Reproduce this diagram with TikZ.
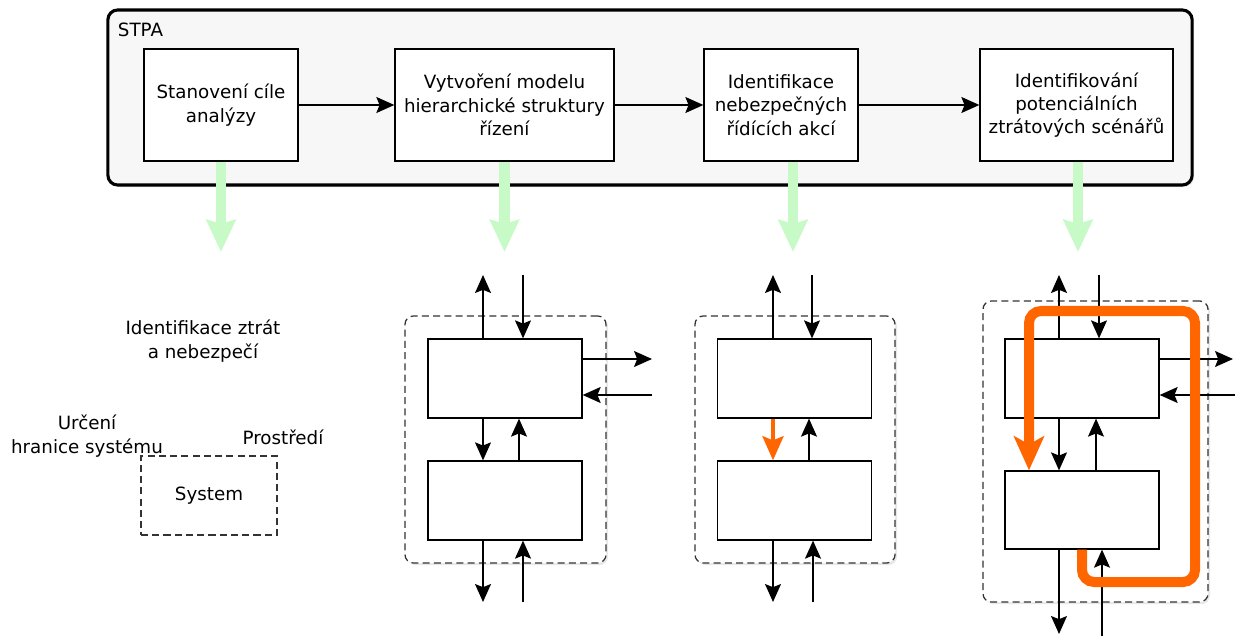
\documentclass[tikz,border=0pt]{standalone}
\usepackage{fontspec}
\setmainfont{DejaVu Sans}
\usetikzlibrary{arrows.meta,shadows}

\definecolor{zelenasipka}{RGB}{200,250,200}
\definecolor{oranzova}{RGB}{255,102,0}

\begin{document}
\begin{tikzpicture}[x=0.025cm,y=-0.025cm,
    font=\fontsize{13}{16.5}\selectfont,
    stin/.style={drop shadow={opacity=0.18,shadow xshift=0.5mm,shadow yshift=-0.5mm}},
    ramec/.style={draw,line width=2.2pt,rounded corners=7pt,fill=black!3,stin},
    krok/.style={draw,line width=0.9pt,fill=white,align=center,inner sep=1pt,minimum height=2.8cm},
    blok/.style={draw,line width=0.9pt,fill=white,minimum width=3.85cm,minimum height=1.975cm},
    ohranic/.style={draw=black!80,dash pattern=on 5pt off 3pt,line width=0.9pt,rounded corners=6pt,fill=white,stin},
    sip/.style={line width=0.9pt,-{Stealth[length=0.45cm,width=0.4cm,inset=0.08cm]}},
    zelena/.style={draw=zelenasipka,line width=0.27cm,-{Stealth[length=0.8cm,width=0.72cm,inset=0.1cm]}},
    orsip/.style={draw=oranzova,line width=0.11cm,-{Stealth[length=0.6cm,width=0.52cm,inset=0.1cm]}},
    orcesta/.style={draw=oranzova,line width=0.25cm,rounded corners=0.3cm,-{Stealth[length=0.85cm,width=0.75cm,inset=0.2cm]}}]
    \useasboundingbox (0,0) rectangle (1235,636);

    % STPA ramec
    \node[ramec,minimum width=27.1cm,minimum height=4.375cm] (stpa) at (650,97.5) {};
    \node[anchor=west] (stpanazev) at (113,30) {STPA};

    % kroky analyzy
    \node[krok,minimum width=3.85cm] (s1) at (221,105) {Stanovení cíle\\analýzy};
    \node[krok,minimum width=5.475cm] (s2) at (504.5,105) {Vytvoření modelu\\hierarchické struktury\\řízení};
    \node[krok,minimum width=3.85cm] (s3) at (781,105) {Identifikace\\nebezpečných\\řídících akcí};
    \node[krok,minimum width=4.825cm] (s4) at (1076.5,105) {Identifikov\'an\'i\\potenci\'aln\'ich\\ztr\'atov\'ych sc\'en\'a\v{r}\r{u}};
    \draw[sip] (s1) -- (s2);
    \draw[sip] (s2) -- (s3);
    \draw[sip] (s3) -- (s4);

    % zelene sipky dolu
    \coordinate (g1) at (221,252);
    \coordinate (g2) at (504.5,252);
    \coordinate (g3) at (793,252);
    \coordinate (g4) at (1078,252);
    \draw[zelena] (s1.south) -- (g1);
    \draw[zelena] (s2.south) -- (g2);
    \draw[zelena] (s3.south -| g3) -- (g3);
    \draw[zelena] (s4.south -| g4) -- (g4);

    % vysledek 1
    \node[align=center] (ztraty) at (203,341) {Identifikace ztrát\\a nebezpečí};
    \node[align=center] (hranice) at (87,436) {Určení\\hranice systému};
    \node (prostredi) at (283,437) {Prostředí};
    \node[draw=black!80,dash pattern=on 5pt off 3pt,line width=0.9pt,minimum width=3.4cm,minimum height=1.975cm] (system) at (209,495.5) {System};

    % vysledek 2 - model rizeni
    \node[ohranic,minimum width=5.025cm,minimum height=6.175cm] (o2) at (505.5,439.5) {};
    \node[blok] (h2) at (505,378.5) {};
    \node[blok] (d2) at (505,500.5) {};
    \coordinate (h2ven) at (483,275);
    \coordinate (h2dovnitr) at (523,275);
    \coordinate (h2vpravo) at (652,359);
    \coordinate (h2zprava) at (652,395);
    \coordinate (d2ven) at (483,602);
    \coordinate (d2dovnitr) at (523,602);
    \draw[sip] (h2.north -| h2ven) -- (h2ven);
    \draw[sip] (h2dovnitr) -- (h2.north -| h2dovnitr);
    \draw[sip] (h2.east |- h2vpravo) -- (h2vpravo);
    \draw[sip] (h2zprava) -- (h2.east |- h2zprava);
    \draw[sip] ([shift={(-22,0)}]h2.south) -- ([shift={(-22,0)}]d2.north);
    \draw[sip] ([shift={(14,0)}]d2.north) -- ([shift={(14,0)}]h2.south);
    \draw[sip] (d2.south -| d2ven) -- (d2ven);
    \draw[sip] (d2dovnitr) -- (d2.south -| d2dovnitr);

    % vysledek 3 - nebezpecna akce
    \node[ohranic,minimum width=5cm,minimum height=6.175cm] (o3) at (795,439.5) {};
    \node[blok] (h3) at (794.5,378.5) {};
    \node[blok] (d3) at (794.5,500.5) {};
    \coordinate (h3ven) at (773,275);
    \coordinate (h3dovnitr) at (812,275);
    \coordinate (d3ven) at (773,602);
    \coordinate (d3dovnitr) at (813,602);
    \draw[sip] (h3.north -| h3ven) -- (h3ven);
    \draw[sip] (h3dovnitr) -- (h3.north -| h3dovnitr);
    \draw[orsip] ([shift={(-21.5,0)}]h3.south) -- ([shift={(-21.5,0)}]d3.north);
    \draw[sip] ([shift={(14.5,0)}]d3.north) -- ([shift={(14.5,0)}]h3.south);
    \draw[sip] (d3.south -| d3ven) -- (d3ven);
    \draw[sip] (d3dovnitr) -- (d3.south -| d3dovnitr);

    % vysledek 4 - ztratove scenare
    \node[ohranic,minimum width=5.625cm,minimum height=7.525cm] (o4) at (1095.5,451.5) {};
    \node[blok] (h4) at (1082,378.5) {};
    \node[blok,minimum height=1.95cm] (d4) at (1082,510) {};
    \coordinate (h4ven) at (1059,275);
    \coordinate (h4dovnitr) at (1099,275);
    \coordinate (h4vpravo) at (1233,359);
    \coordinate (h4zprava) at (1235,395);
    \coordinate (d4ven) at (1059,634);
    \coordinate (d4dovnitr) at (1102,636);
    \draw[sip] (h4.north -| h4ven) -- (h4ven);
    \draw[sip] (h4dovnitr) -- (h4.north -| h4dovnitr);
    \draw[sip] (h4.east |- h4vpravo) -- (h4vpravo);
    \draw[sip] (h4zprava) -- (h4.east |- h4zprava);
    \draw[sip] ([shift={(-23,0)}]h4.south) -- ([shift={(-23,0)}]d4.north);
    \draw[sip] ([shift={(14,0)}]d4.north) -- ([shift={(14,0)}]h4.south);
    \draw[sip] (d4.south -| d4ven) -- (d4ven);
    \draw[sip] (d4dovnitr) -- (d4.south -| d4dovnitr);
    \draw[orcesta] (d4.south) -- (1082,582) -- (1195,582) -- (1195,311) -- (1029,311) -- ([shift={(-53,0)}]d4.north);
\end{tikzpicture}
\end{document}
